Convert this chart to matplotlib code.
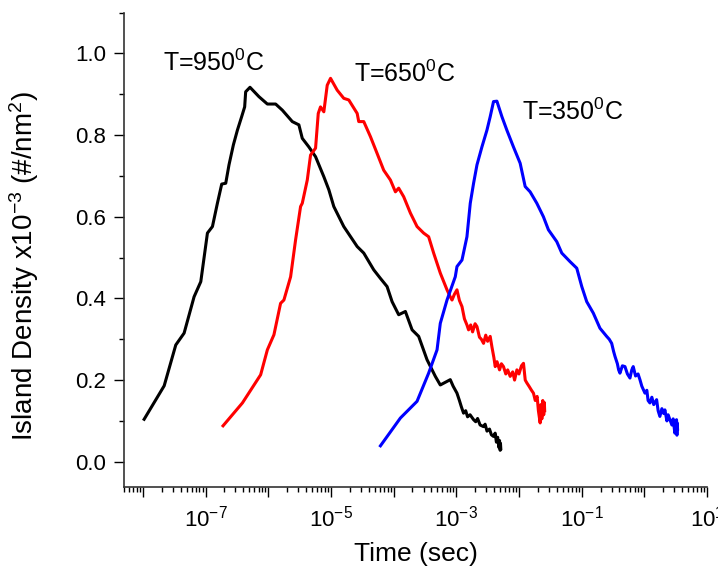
import numpy as np
import matplotlib
matplotlib.use('Agg')
import matplotlib.pyplot as plt
from matplotlib.ticker import FixedLocator, LogLocator, FuncFormatter, MultipleLocator

# island density vs time, three substrate temperatures
# times are stored as log10(t / sec), densities in units of 1e-3 /nm^2
log_t_950 = [-7.98, -7.66, -7.475, -7.342, -7.183, -7.076, -6.970, -6.890, -6.811, -6.742,
             -6.678, -6.626, -6.556, -6.492, -6.424, -6.376, -6.360, -6.291, -6.148, -6.014,
             -5.882, -5.775, -5.616, -5.511, -5.457, -5.352, -5.245, -5.113, -5.033, -4.954,
             -4.795, -4.581, -4.476, -4.317, -4.210, -4.104, -4.024, -3.919, -3.812, -3.705,
             -3.600, -3.467, -3.334, -3.255, -3.096, -3.05, -2.989, -2.95, -2.92, -2.884,
             -2.85, -2.82, -2.78, -2.724, -2.69, -2.66, -2.62, -2.565, -2.54, -2.51,
             -2.47, -2.44, -2.406, -2.38, -2.36, -2.34, -2.32, -2.31, -2.30, -2.295, -2.29]
dens_950 = [0.104, 0.186, 0.286, 0.315, 0.404, 0.441, 0.560, 0.576, 0.633, 0.680,
            0.682, 0.727, 0.776, 0.812, 0.845, 0.869, 0.906, 0.917, 0.894, 0.876,
            0.876, 0.861, 0.833, 0.825, 0.792, 0.771, 0.747, 0.698, 0.666, 0.625,
            0.576, 0.527, 0.511, 0.470, 0.449, 0.429, 0.392, 0.360, 0.368, 0.323,
            0.307, 0.250, 0.209, 0.188, 0.201, 0.185, 0.168, 0.150, 0.135, 0.119,
            0.125, 0.110, 0.115, 0.103, 0.098, 0.106, 0.090, 0.086, 0.092, 0.075,
            0.080, 0.066, 0.062, 0.070, 0.048, 0.060, 0.035, 0.052, 0.028, 0.045, 0.032]

log_t_650 = [-6.721, -6.412, -6.121, -6.014, -5.909, -5.803, -5.750, -5.643, -5.564, -5.484,
             -5.457, -5.377, -5.325, -5.245, -5.202, -5.166, -5.113, -5.059, -5.006, -4.900,
             -4.795, -4.715, -4.581, -4.556, -4.476, -4.369, -4.263, -4.158, -4.051, -3.971,
             -3.919, -3.839, -3.732, -3.626, -3.521, -3.441, -3.361, -3.255, -3.148, -3.10,
             -3.068, -3.03, -2.989, -2.95, -2.909, -2.87, -2.83, -2.804, -2.77, -2.74,
             -2.70, -2.670, -2.63, -2.60, -2.565, -2.53, -2.50, -2.459, -2.43, -2.40,
             -2.379, -2.35, -2.31, -2.28, -2.247, -2.21, -2.18, -2.140, -2.10, -2.07,
             -2.033, -2.00, -1.96, -1.928, -1.90, -1.874, -1.84, -1.80, -1.769, -1.74,
             -1.71, -1.69, -1.662, -1.65, -1.635, -1.62, -1.605, -1.595, -1.59]
dens_650 = [0.088, 0.144, 0.213, 0.274, 0.311, 0.388, 0.396, 0.453, 0.543, 0.625,
            0.633, 0.690, 0.751, 0.768, 0.853, 0.869, 0.857, 0.922, 0.939, 0.910,
            0.890, 0.886, 0.853, 0.833, 0.833, 0.796, 0.755, 0.714, 0.690, 0.661,
            0.670, 0.649, 0.609, 0.576, 0.560, 0.551, 0.511, 0.462, 0.421, 0.405,
            0.396, 0.410, 0.421, 0.395, 0.380, 0.350, 0.335, 0.323, 0.335, 0.318,
            0.338, 0.331, 0.305, 0.300, 0.290, 0.310, 0.295, 0.307, 0.280, 0.255,
            0.233, 0.245, 0.225, 0.240, 0.233, 0.215, 0.225, 0.209, 0.220, 0.200,
            0.225, 0.215, 0.235, 0.241, 0.200, 0.193, 0.185, 0.175, 0.168, 0.150,
            0.160, 0.125, 0.095, 0.140, 0.105, 0.150, 0.115, 0.145, 0.125]

log_t_350 = [-4.210, -3.892, -3.626, -3.441, -3.307, -3.255, -3.148, -3.016, -2.989, -2.909,
             -2.830, -2.777, -2.724, -2.670, -2.591, -2.511, -2.459, -2.406, -2.352, -2.272,
             -2.193, -2.088, -1.981, -1.901, -1.822, -1.715, -1.610, -1.530, -1.397, -1.317,
             -1.185, -1.078, -0.998, -0.919, -0.814, -0.708, -0.601, -0.56, -0.521, -0.49,
             -0.468, -0.43, -0.41, -0.389, -0.35, -0.309, -0.27, -0.229, -0.20, -0.177,
             -0.14, -0.10, -0.070, -0.04, 0.010, 0.04, 0.06, 0.089, 0.12, 0.15,
             0.196, 0.22, 0.248, 0.28, 0.31, 0.328, 0.36, 0.38, 0.408, 0.44,
             0.46, 0.487, 0.50, 0.514, 0.52, 0.525, 0.53]
dens_350 = [0.039, 0.107, 0.148, 0.217, 0.274, 0.339, 0.396, 0.453, 0.478, 0.494,
            0.551, 0.633, 0.682, 0.727, 0.771, 0.812, 0.845, 0.882, 0.883, 0.845,
            0.812, 0.771, 0.731, 0.674, 0.661, 0.633, 0.600, 0.568, 0.539, 0.511,
            0.490, 0.474, 0.429, 0.392, 0.364, 0.327, 0.307, 0.300, 0.290, 0.270,
            0.258, 0.240, 0.225, 0.217, 0.235, 0.233, 0.215, 0.205, 0.225, 0.233,
            0.210, 0.215, 0.201, 0.185, 0.168, 0.175, 0.150, 0.144, 0.158, 0.140,
            0.152, 0.125, 0.111, 0.130, 0.118, 0.127, 0.100, 0.115, 0.103, 0.090,
            0.105, 0.070, 0.095, 0.103, 0.065, 0.095, 0.080]

series = [
    (log_t_950, dens_950, 'black'),
    (log_t_650, dens_650, 'red'),
    (log_t_350, dens_350, 'blue'),
]

labels = [r'T=950$^0$C', r'T=650$^0$C', r'T=350$^0$C']
label_pos = [(2.06e-8, 0.957), (2.3e-5, 0.930), (1.11e-2, 0.837)]

plt.rcParams['font.family'] = ['Liberation Sans', 'DejaVu Sans']
plt.rcParams['mathtext.fontset'] = 'custom'
plt.rcParams['mathtext.rm'] = 'Liberation Sans'
plt.rcParams['mathtext.it'] = 'Liberation Sans:italic'
plt.rcParams['mathtext.bf'] = 'Liberation Sans:bold'

fig = plt.figure(figsize=(7.18, 5.71), dpi=100)
ax = fig.add_axes([0.1727, 0.147, 0.812, 0.831])

for lt, d, c in series:
    ax.plot(10 ** np.array(lt), d, color=c, linewidth=2.2)

for txt, (x, y) in zip(labels, label_pos):
    ax.text(x, y, txt, fontsize=18, va='baseline', ha='left')

ax.set_xscale('log')
ax.set_xlim(5e-9, 10)
ax.set_ylim(-0.062, 1.1)

# decade ticks everywhere, labels on odd exponents only
decades = list(range(-8, 2))
ax.xaxis.set_major_locator(FixedLocator([10.0 ** e for e in decades]))
ax.xaxis.set_major_formatter(FuncFormatter(
    lambda v, p: r'$10^{%d}$' % round(np.log10(v)) if round(np.log10(v)) % 2 else ''))
ax.xaxis.set_minor_locator(LogLocator(base=10, subs=np.arange(2, 10), numticks=50))

ax.yaxis.set_major_locator(FixedLocator([0.0, 0.2, 0.4, 0.6, 0.8, 1.0]))
ax.yaxis.set_major_formatter(FuncFormatter(lambda v, p: '%.1f' % v))
ax.yaxis.set_minor_locator(MultipleLocator(0.1))

for s in ['top', 'right']:
    ax.spines[s].set_visible(False)
for s in ['left', 'bottom']:
    ax.spines[s].set_linewidth(1.2)
    ax.spines[s].set_color('#333333')

ax.tick_params(which='major', direction='out', length=7, width=1.0, labelsize=16, pad=6)
ax.tick_params(which='minor', direction='out', length=3.5, width=1.0)

ax.set_xlabel('Time (sec)', fontsize=19, labelpad=8)
ax.set_ylabel(r'Island Density x10$^{-3}$ (#/nm$^2$)', fontsize=20)
ax.yaxis.set_label_coords(-0.143, 0.466)

fig.savefig('out.png', dpi=100)
